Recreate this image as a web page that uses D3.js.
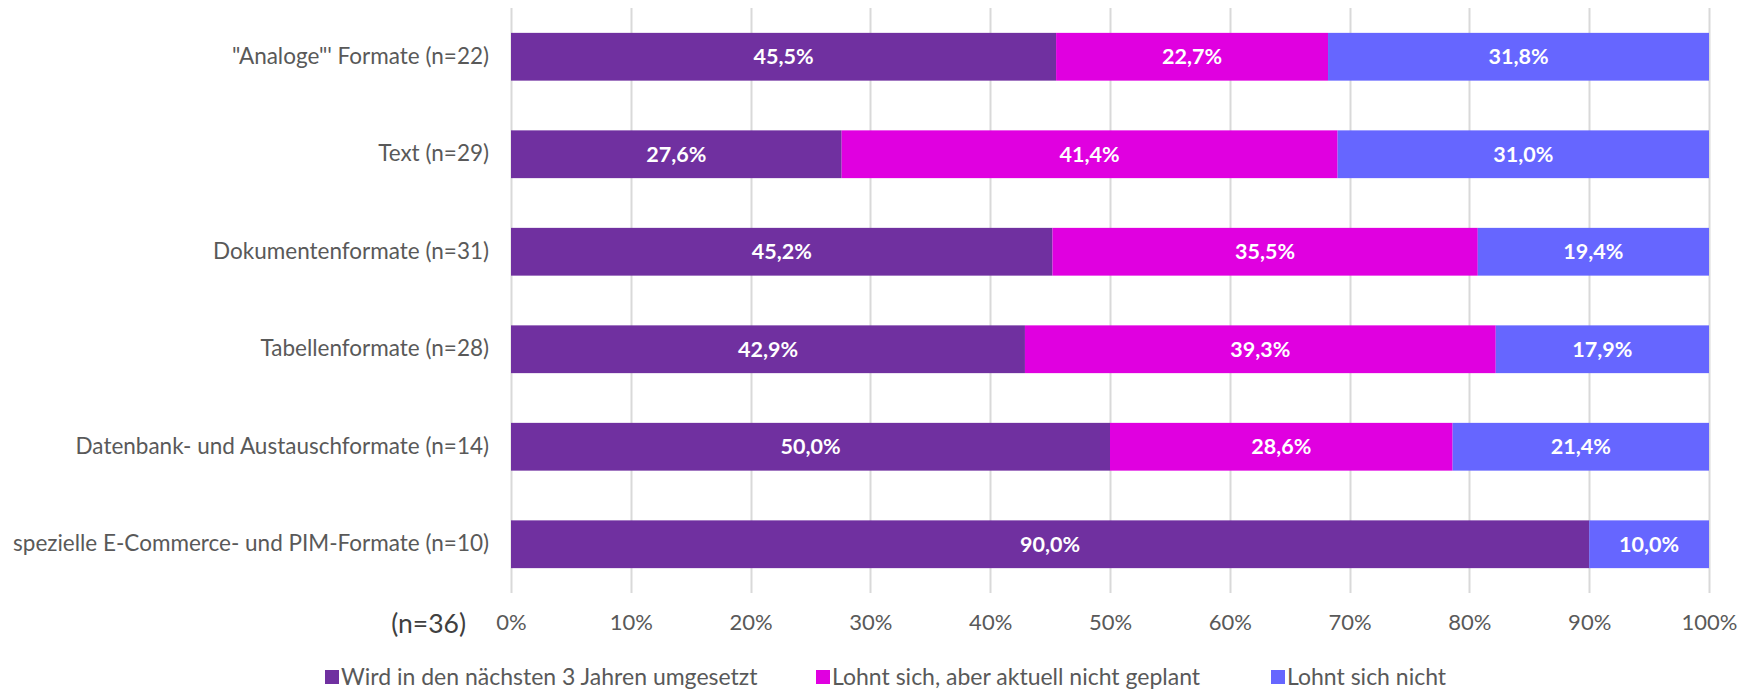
<!DOCTYPE html>
<html>
<head>
<meta charset="utf-8">
<script src="https://cdn.jsdelivr.net/npm/d3@7"></script>
<style>
  html, body { margin: 0; padding: 0; background: #fff; }
  svg { display: block; }
</style>
</head>
<body>
<svg id="chart" width="1750" height="691"></svg>
<script>
const categories = [
  "\"Analoge\"' Formate (n=22)",
  "Text (n=29)",
  "Dokumentenformate (n=31)",
  "Tabellenformate (n=28)",
  "Datenbank- und Austauschformate (n=14)",
  "spezielle E-Commerce- und PIM-Formate (n=10)"
];
const seriesNames = [
  "Wird in den nächsten 3 Jahren umgesetzt",
  "Lohnt sich, aber aktuell nicht geplant",
  "Lohnt sich nicht"
];
const umgesetzt = [45.5, 27.6, 45.2, 42.9, 50.0, 90.0];
const geplant   = [22.7, 41.4, 35.5, 39.3, 28.6, 0];
const lohntNicht = [31.8, 31.0, 19.4, 17.9, 21.4, 10.0];
const tickValues = [0, 10, 20, 30, 40, 50, 60, 70, 80, 90, 100];
const colors = ["#7030A0", "#E000E0", "#6666FF"];
const sampleNote = "(n=36)";

const font = "Lato, 'Open Sans', sans-serif";
const svg = d3.select("#chart");
const pLeft = 511, pRight = 1709, pTop = 8, pBottom = 593;

const x = d3.scaleLinear().domain([0, 100]).range([pLeft, pRight]);
const y = d3.scaleBand().domain(categories).range([pTop, pBottom]).paddingInner(0.51).paddingOuter(0.255);

// gridlines
svg.append("g").selectAll("line").data(tickValues).join("line")
  .attr("x1", d => Math.round(x(d)) + 0.5).attr("x2", d => Math.round(x(d)) + 0.5)
  .attr("y1", pTop).attr("y2", pBottom)
  .attr("stroke", "#D9D9D9").attr("stroke-width", 2);

const rows = categories.map((c, i) => ({ cat: c, s0: umgesetzt[i], s1: geplant[i], s2: lohntNicht[i] }));
const stacked = d3.stack().keys(["s0", "s1", "s2"])(rows);

const g = svg.append("g");
stacked.forEach((layer, si) => {
  const grp = g.append("g");
  grp.selectAll("rect").data(layer).join("rect")
    .attr("x", d => x(d[0]))
    .attr("y", d => y(d.data.cat))
    .attr("width", d => Math.max(0, Math.min(x(d[1]), pRight) - x(d[0])))
    .attr("height", y.bandwidth())
    .attr("fill", colors[si]);
  grp.selectAll("text").data(layer.filter(d => d[1] - d[0] > 0)).join("text")
    .attr("x", d => (x(d[0]) + Math.min(x(d[1]), pRight)) / 2)
    .attr("y", d => y(d.data.cat) + y.bandwidth() / 2)
    .attr("dy", "0.36em")
    .attr("text-anchor", "middle")
    .attr("fill", "#fff")
    .attr("font-family", font)
    .attr("font-weight", "bold")
    .attr("font-size", 21.5)
    .text(d => (d[1] - d[0]).toFixed(1).replace(".", ",") + "%");
});

// y axis labels
const yAxis = d3.axisLeft(y).tickSize(0).tickPadding(22);
const ya = svg.append("g").attr("transform", `translate(${pLeft},0)`).call(yAxis);
ya.select(".domain").remove();
ya.selectAll("text").attr("font-family", font).attr("font-size", 22.5).attr("fill", "#595959");

// x axis labels
const xAxis = d3.axisBottom(x).tickValues(tickValues).tickSize(0).tickPadding(0).tickFormat(d => d + "%");
const xa = svg.append("g").attr("transform", `translate(0,${pBottom + 21})`).call(xAxis);
xa.select(".domain").remove();
xa.selectAll("text").attr("font-family", font).attr("font-size", 22).attr("fill", "#595959");

svg.append("text").attr("x", 466).attr("y", 623).attr("dy", "0.36em")
  .attr("text-anchor", "end").attr("font-family", font).attr("font-size", 26.5).attr("fill", "#404040")
  .text(sampleNote);

// legend
const legendX = [325, 816, 1271];
const lg = svg.append("g");
seriesNames.forEach((n, i) => {
  lg.append("rect").attr("x", legendX[i]).attr("y", 670).attr("width", 14).attr("height", 14).attr("fill", colors[i]);
  lg.append("text").attr("x", legendX[i] + 16).attr("y", 677).attr("dy", "0.36em")
    .attr("font-family", font).attr("font-size", 23).attr("fill", "#595959").text(n);
});
</script>
</body>
</html>
